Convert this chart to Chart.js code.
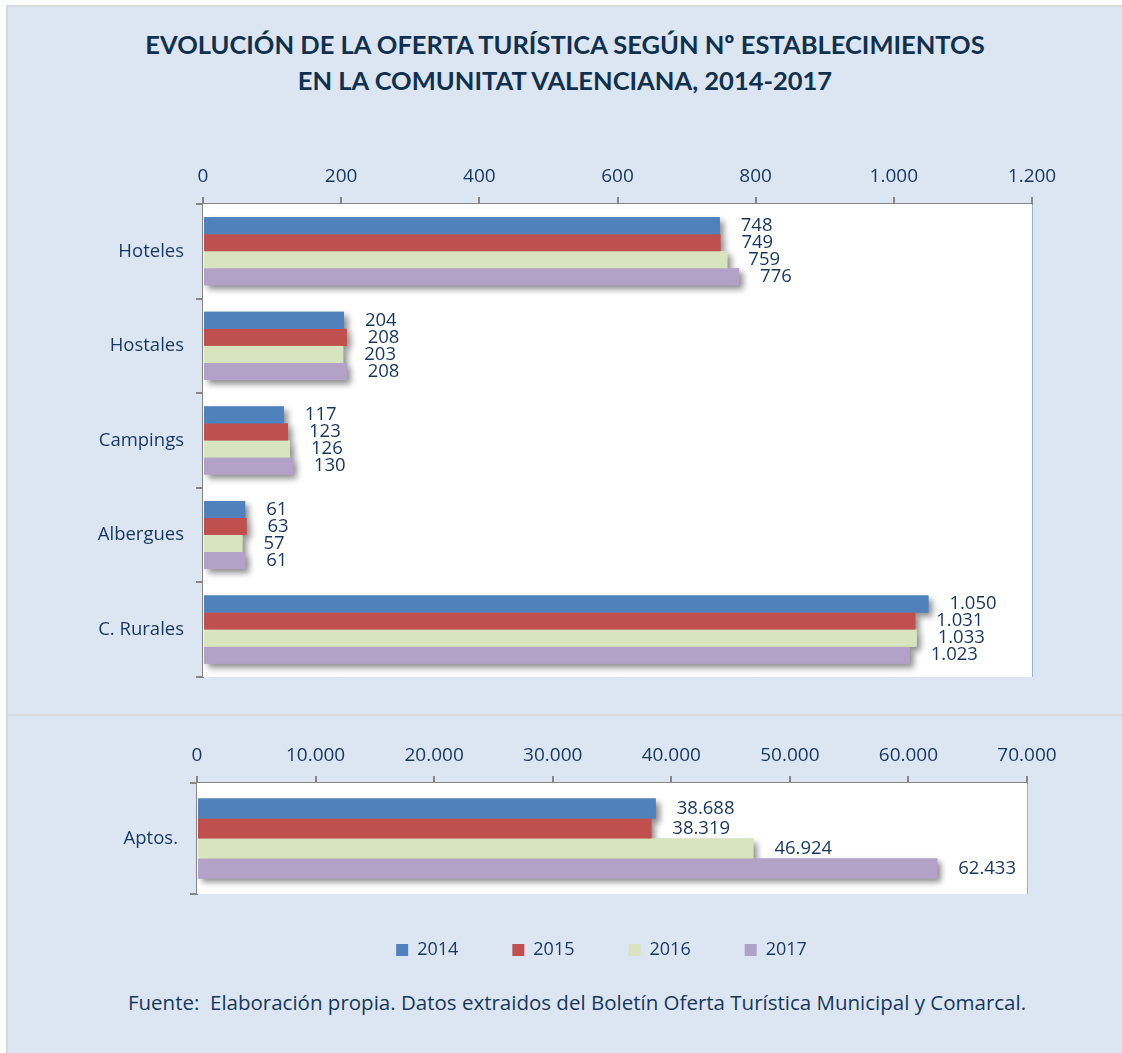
<!DOCTYPE html>
<html>
<head>
<meta charset="utf-8">
<script src="https://cdn.jsdelivr.net/npm/chart.js@4.4.1/dist/chart.umd.min.js"></script>
<style>
  body { margin: 0; background: #ffffff; }
  #frame {
    position: absolute; left: 6px; top: 5px; width: 1116px; height: 1048px;
    background: #dce6f2; border-left: 2px solid #d9d9d9; border-top: 2px solid #d9d9d9;
  }
  #sep { position: absolute; left: 6px; top: 714px; width: 1116px; height: 2px; background: #d6d9de; }
  #title {
    position: absolute; left: 0; top: 26px; width: 1130px; text-align: center;
    font: bold 25.5px Lato, "Open Sans", sans-serif; color: #10304f; line-height: 36px;
  }
  #source {
    position: absolute; left: 0; top: 988px; width: 1154px; text-align: center;
    font: 20.5px "Open Sans", sans-serif; color: #17365d; white-space: pre;
  }
  .box { position: absolute; left: 0; width: 1122px; }
</style>
</head>
<body>
<div id="frame"></div>
<div id="sep"></div>
<div id="title">EVOLUCIÓN DE LA OFERTA TURÍSTICA SEGÚN Nº ESTABLECIMIENTOS<br>EN LA COMUNITAT VALENCIANA, 2014-2017</div>
<div class="box" style="top:140px;height:560px"><canvas id="chart1"></canvas></div>
<div class="box" style="top:716px;height:260px"><canvas id="chart2"></canvas></div>
<div id="source">Fuente:  Elaboración propia. Datos extraidos del Boletín Oferta Turística Municipal y Comarcal.</div>

<script>
// data
let years = ['2014', '2015', '2016', '2017'];
let categories = ['Hoteles', 'Hostales', 'Campings', 'Albergues', 'C. Rurales'];
let values2014 = [748, 204, 117, 61, 1050];
let values2015 = [749, 208, 123, 63, 1031];
let values2016 = [759, 203, 126, 57, 1033];
let values2017 = [776, 208, 130, 61, 1023];

let aptosLabel = ['Aptos.'];
let aptos2014 = [38688];
let aptos2015 = [38319];
let aptos2016 = [46924];
let aptos2017 = [62433];

let colors = ['#4f81bd', '#c0504d', '#d7e4bd', '#b3a2c7'];
let textColor = '#17365d';
let font = 'Open Sans';

// 1.050 style numbers
function fmt(v) {
    return String(v).replace(/\B(?=(\d{3})+(?!\d))/g, '.');
}

// white plot area + value labels
let barExtras = {
    id: 'barExtras',
    beforeDatasetsDraw(chart) {
        let ctx = chart.ctx;
        let a = chart.chartArea;
        ctx.save();
        ctx.fillStyle = '#ffffff';
        ctx.fillRect(a.left, a.top, a.right - a.left, a.bottom - a.top);
        ctx.restore();
    },
    afterDatasetsDraw(chart) {
        let ctx = chart.ctx;
        ctx.save();
        ctx.font = '18.5px "' + font + '"';
        ctx.fillStyle = textColor;
        ctx.textAlign = 'left';
        ctx.textBaseline = 'middle';
        chart.data.datasets.forEach((ds, i) => {
            chart.getDatasetMeta(i).data.forEach((bar, j) => {
                ctx.fillText(fmt(ds.data[j]), bar.x + 21, bar.y);
            });
        });
        ctx.restore();
    }
};

// shadows are drawn first so no bar shadow falls on the bar below it
let shadowPass = {
    id: 'shadowPass',
    beforeDatasetsDraw(chart) {
        let ctx = chart.ctx;
        ctx.save();
        ctx.shadowColor = 'rgba(0,0,0,0.45)';
        ctx.shadowBlur = 6;
        ctx.shadowOffsetX = 4;
        ctx.shadowOffsetY = 4;
        chart.data.datasets.forEach((ds, i) => {
            chart.getDatasetMeta(i).data.forEach(bar => {
                let p = bar.getProps(['x', 'y', 'base', 'height'], true);
                ctx.fillStyle = ds.backgroundColor;
                ctx.fillRect(p.base, p.y - p.height / 2, p.x - p.base, p.height);
            });
        });
        ctx.restore();
    }
};

// the original legend sits right of centre and a bit higher
let legendShift = {
    id: 'legendShift',
    afterLayout(chart) {
        if (chart.legend) {
            chart.legend.left += 176;
            chart.legend.top -= 7;
        }
    }
};

function makeDatasets(sets) {
    return sets.map((d, i) => ({
        label: years[i],
        data: d,
        backgroundColor: colors[i],
        borderWidth: 0,
        barPercentage: 1,
        categoryPercentage: 0.72
    }));
}

function makeOptions(max, step, yWidth, xHeight, pad, legend) {
    return {
        indexAxis: 'y',
        responsive: true,
        maintainAspectRatio: false,
        animation: false,
        layout: { padding: pad },
        plugins: {
            legend: legend,
            tooltip: { enabled: false }
        },
        scales: {
            x: {
                position: 'top',
                min: 0,
                max: max,
                ticks: {
                    stepSize: step,
                    color: textColor,
                    font: { family: font, size: 19 },
                    padding: 9,
                    maxRotation: 0,
                    callback: v => fmt(v)
                },
                grid: { color: '#95b3d7', lineWidth: 2, tickColor: '#868686', tickLength: 7 },
                border: { color: '#868686', width: 2 },
                afterFit: s => { s.height = xHeight; }
            },
            y: {
                ticks: { color: textColor, font: { family: font, size: 18.5 }, padding: 12 },
                grid: { drawOnChartArea: false, color: '#868686', tickLength: 7, lineWidth: 2 },
                border: { color: '#868686', width: 2 },
                afterFit: s => { s.width = yWidth; }
            }
        }
    };
}

new Chart(document.getElementById('chart1'), {
    type: 'bar',
    data: {
        labels: categories,
        datasets: makeDatasets([values2014, values2015, values2016, values2017])
    },
    options: makeOptions(1200, 200, 203, 64, { left: 0, right: 90, top: 0, bottom: 23 }, { display: false }),
    plugins: [barExtras, shadowPass]
});

new Chart(document.getElementById('chart2'), {
    type: 'bar',
    data: {
        labels: aptosLabel,
        datasets: makeDatasets([aptos2014, aptos2015, aptos2016, aptos2017])
    },
    options: makeOptions(70000, 10000, 197, 67, { left: 0, right: 95, top: 0, bottom: 0 }, {
        display: true,
        position: 'bottom',
        labels: {
            boxWidth: 12,
            boxHeight: 12,
            padding: 54,
            color: textColor,
            font: { family: font, size: 18 }
        }
    }),
    plugins: [barExtras, shadowPass, legendShift]
});
</script>
</body>
</html>
